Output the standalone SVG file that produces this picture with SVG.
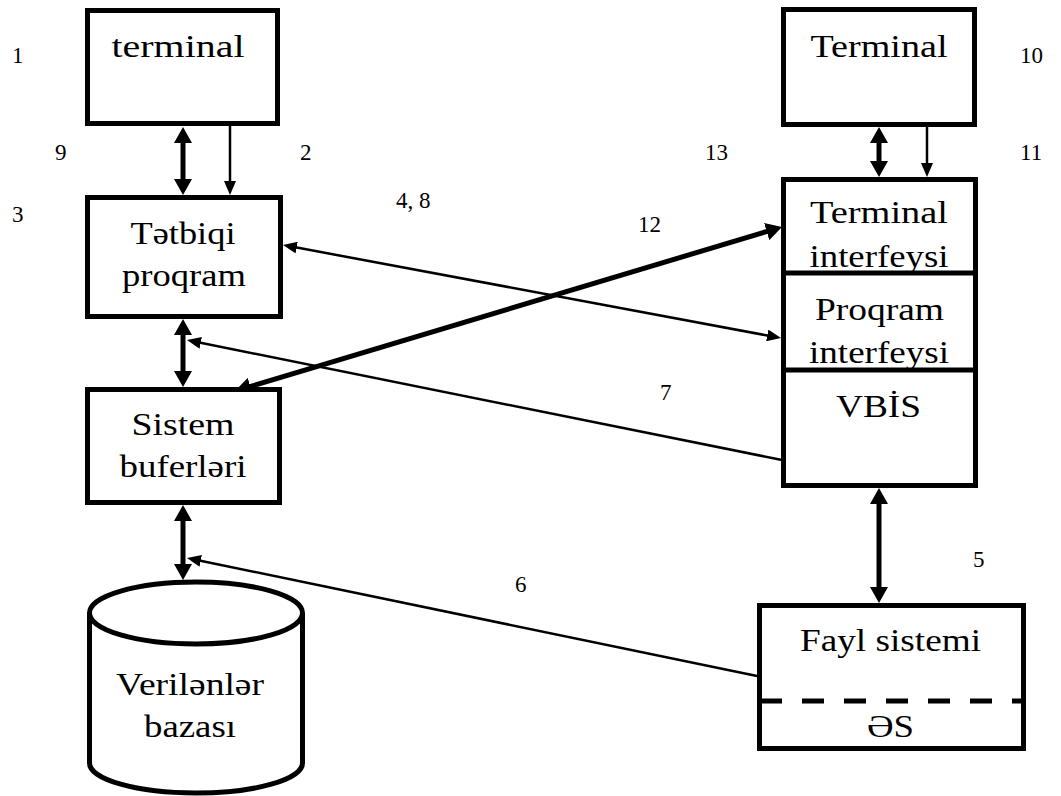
<svg xmlns="http://www.w3.org/2000/svg" width="1061" height="796" viewBox="0 0 1061 796" font-family="Liberation Serif, Times New Roman, serif">
  <style>
    .box { fill: #fff; stroke: #000; stroke-width: 5; }
    .div { stroke: #000; stroke-width: 5; fill: none; }
    text { font-family: "Liberation Serif", "Times New Roman", serif; }
    .lbl { font-size: 32px; fill: #000; text-anchor: middle; }
    .num { font-size: 23px; fill: #000; }
    .thick { stroke: #000; stroke-width: 5; fill: none; marker-start: url(#hk); marker-end: url(#hk); }
    .thin { stroke: #000; stroke-width: 2.5; fill: none; marker-end: url(#hn); }
    .thin2 { stroke: #000; stroke-width: 2.5; fill: none; marker-start: url(#hn); marker-end: url(#hn); }
  </style>
  <defs>
    <marker id="hk" markerUnits="userSpaceOnUse" viewBox="0 0 16 18" markerWidth="16" markerHeight="18" refX="4" refY="9" orient="auto-start-reverse">
      <path d="M0,0 L16,9 L0,18 z" fill="#000"/>
    </marker>
    <marker id="hn" markerUnits="userSpaceOnUse" viewBox="0 0 14 12" markerWidth="14" markerHeight="12" refX="4" refY="6" orient="auto-start-reverse">
      <path d="M0,0 L14,6 L0,12 z" fill="#000"/>
    </marker>
  </defs>

  <g id="connectors">
    <!-- terminal <-> Tətbiqi proqram -->
    <line class="thick" x1="183" y1="139" x2="183" y2="183"/>
    <line class="thin" x1="230" y1="126" x2="230" y2="185"/>
    <!-- Terminal <-> Terminal interfeysi -->
    <line class="thick" x1="879" y1="139" x2="879" y2="165"/>
    <line class="thin" x1="927" y1="127" x2="927" y2="167"/>
    <!-- Tətbiqi proqram <-> Sistem buferləri -->
    <line class="thick" x1="183" y1="331" x2="183" y2="375"/>
    <!-- Sistem buferləri <-> Verilənlər bazası -->
    <line class="thick" x1="183" y1="517" x2="183" y2="568"/>
    <!-- VBİS <-> Fayl sistemi -->
    <line class="thick" x1="879" y1="500" x2="879" y2="591"/>
    <!-- 4, 8 -->
    <line class="thin2" x1="292.8" y1="246.8" x2="771.2" y2="336.2"/>
    <!-- 12 -->
    <line class="thick" x1="246.5" y1="387.6" x2="770.5" y2="230.4"/>
    <!-- 7 -->
    <line class="thin" x1="782" y1="460" x2="196.8" y2="342"/>
    <!-- 6 -->
    <line class="thin" x1="757" y1="676" x2="196.8" y2="560"/>
  </g>

  <g id="terminal-left">
    <rect class="box" x="87.5" y="10.5" width="190" height="113"/>
    <text class="lbl" x="178" y="57" textLength="133" lengthAdjust="spacingAndGlyphs">terminal</text>
  </g>

  <g id="tetbiqi-proqram">
    <rect class="box" x="87.5" y="197.5" width="193" height="119"/>
    <text class="lbl" x="183" y="244" textLength="105" lengthAdjust="spacingAndGlyphs">Tətbiqi</text>
    <text class="lbl" x="184" y="286" textLength="124" lengthAdjust="spacingAndGlyphs">proqram</text>
  </g>

  <g id="sistem-buferleri">
    <rect class="box" x="87.5" y="389.5" width="192" height="113"/>
    <text class="lbl" x="183" y="435" textLength="103" lengthAdjust="spacingAndGlyphs">Sistem</text>
    <text class="lbl" x="183" y="477" textLength="127" lengthAdjust="spacingAndGlyphs">buferləri</text>
  </g>

  <g id="verilenler-bazasi">
    <path class="box" d="M89.5,613 L89.5,763 A106.5,30 0 0 0 302.5,763 L302.5,613"/>
    <ellipse class="box" cx="196" cy="613" rx="106.5" ry="31"/>
    <text class="lbl" x="190" y="695" textLength="148" lengthAdjust="spacingAndGlyphs">Verilənlər</text>
    <text class="lbl" x="190" y="737" textLength="92" lengthAdjust="spacingAndGlyphs">bazası</text>
  </g>

  <g id="terminal-right">
    <rect class="box" x="783.5" y="9.5" width="191" height="115"/>
    <text class="lbl" x="879" y="57" textLength="137" lengthAdjust="spacingAndGlyphs">Terminal</text>
  </g>

  <g id="vbis-stack">
    <rect class="box" x="783.5" y="179.5" width="192" height="306"/>
    <text class="lbl" x="879" y="223" textLength="138" lengthAdjust="spacingAndGlyphs">Terminal</text>
    <text class="lbl" x="879" y="267" textLength="139" lengthAdjust="spacingAndGlyphs">interfeysi</text>
    <text class="lbl" x="879.5" y="320" textLength="129" lengthAdjust="spacingAndGlyphs">Proqram</text>
    <text class="lbl" x="879" y="363" textLength="140" lengthAdjust="spacingAndGlyphs">interfeysi</text>
    <text class="lbl" x="878.5" y="417" textLength="85" lengthAdjust="spacingAndGlyphs">VBİS</text>
    <!-- section dividers drawn over the text, clipping the descenders -->
    <line class="div" x1="781" y1="273" x2="978" y2="273"/>
    <line class="div" x1="781" y1="370" x2="978" y2="370"/>
  </g>

  <g id="fayl-sistemi">
    <rect class="box" x="759.5" y="605.5" width="264" height="143"/>
    <line class="div" x1="760" y1="701" x2="1024" y2="701" stroke-dasharray="22 20"/>
    <text class="lbl" x="890.5" y="651" textLength="181" lengthAdjust="spacingAndGlyphs">Fayl sistemi</text>
    <text class="lbl" x="890.5" y="737" textLength="47" lengthAdjust="spacingAndGlyphs">ƏS</text>
  </g>

  <g id="numbers">
    <text class="num" x="12" y="63">1</text>
    <text class="num" x="55" y="160">9</text>
    <text class="num" x="300" y="160">2</text>
    <text class="num" x="12" y="222">3</text>
    <text class="num" x="1020" y="63">10</text>
    <text class="num" x="705" y="160">13</text>
    <text class="num" x="1020" y="160">11</text>
    <text class="num" x="396" y="208">4, 8</text>
    <text class="num" x="638" y="232">12</text>
    <text class="num" x="660" y="400">7</text>
    <text class="num" x="973" y="567">5</text>
    <text class="num" x="515" y="592">6</text>
  </g>
</svg>
